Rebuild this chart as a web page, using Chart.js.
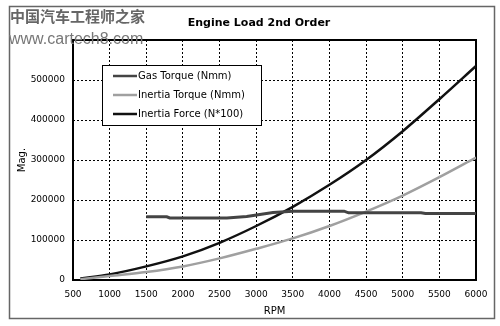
<!DOCTYPE html>
<html>
<head>
<meta charset="utf-8">
<script src="https://cdn.jsdelivr.net/npm/chart.js@4"></script>
<style>
  html, body { margin: 0; padding: 0; background: #fff; }
</style>
</head>
<body>
<canvas id="grafico" width="500" height="326"></canvas>
<script>
// Dados
const chartTitle = 'Engine Load 2nd Order';
const seriesNames = ['Gas Torque (Nmm)', 'Inertia Torque (Nmm)', 'Inertia Force (N*100)'];

const gasRpm = [1500, 1780, 1820, 2600, 2870, 3230, 3500, 4200, 4260, 5250, 5310, 6000];
const gasTorque = [158000, 158000, 155000, 155000, 159000, 169000, 172000, 172000, 168000, 168000, 166000, 166000];

const rpm = [600, 1000, 1500, 2000, 2500, 3000, 3500, 4000, 4500, 5000, 5500, 6000];
const inertiaTorque = [2000, 10000, 20000, 34000, 54000, 78000, 104000, 135000, 171000, 211000, 257000, 306000];
const inertiaForce = [4000, 14000, 34000, 59000, 93000, 135000, 183000, 238000, 300000, 372000, 452000, 535000];

const xTicks = [500, 1000, 1500, 2000, 2500, 3000, 3500, 4000, 4500, 5000, 5500, 6000];
const yTicks = [0, 100000, 200000, 300000, 400000, 500000, 600000];

const FONT = 'DejaVu Sans';

function pontos(xs, ys) {
    return xs.map((x, i) => ({ x: x, y: ys[i] }));
}

// Moldura da área do gráfico
const moldura = {
    id: 'moldura',
    beforeDatasetsDraw(chart) {
        const a = chart.chartArea;
        const ctx = chart.ctx;
        ctx.save();
        ctx.strokeStyle = '#000';
        ctx.lineWidth = 2;
        ctx.strokeRect(a.left, a.top, a.right - a.left, a.bottom - a.top);
        ctx.restore();
    }
};

// Legenda desenhada dentro da área
const legendaInterna = {
    id: 'legendaInterna',
    afterDatasetsDraw(chart) {
        const ctx = chart.ctx;
        ctx.save();
        ctx.fillStyle = '#fff';
        ctx.fillRect(102, 65, 159, 60);
        ctx.strokeStyle = '#000';
        ctx.lineWidth = 1;
        ctx.strokeRect(102.5, 65.5, 159, 60);
        ctx.font = '10px "' + FONT + '"';
        ctx.textBaseline = 'middle';
        chart.data.datasets.forEach((ds, i) => {
            const y = 76 + i * 19;
            ctx.strokeStyle = ds.borderColor;
            ctx.lineWidth = 2.5;
            ctx.beginPath();
            ctx.moveTo(113, y);
            ctx.lineTo(137, y);
            ctx.stroke();
            ctx.fillStyle = '#000';
            ctx.fillText(ds.label, 138, y);
        });
        ctx.restore();
    }
};

// Título, moldura externa e marca d'água
const extras = {
    id: 'extras',
    afterDraw(chart) {
        const ctx = chart.ctx;
        ctx.save();
        ctx.strokeStyle = '#666';
        ctx.lineWidth = 1.5;
        ctx.strokeRect(9.5, 6.5, 485, 312);
        ctx.fillStyle = '#000';
        ctx.font = 'bold 11px "' + FONT + '"';
        ctx.textAlign = 'center';
        ctx.textBaseline = 'middle';
        ctx.fillText(chartTitle, 259, 23);

        ctx.textAlign = 'left';
        ctx.fillStyle = '#666';
        ctx.font = 'bold 15px "Noto Sans CJK SC"';
        ctx.fillText('中国汽车工程师之家', 10, 16);
        ctx.fillStyle = '#777';
        ctx.font = '16px "Liberation Sans"';
        ctx.fillText('www.cartech8.com', 9, 40);
        ctx.restore();
    }
};

const ctx = document.getElementById('grafico').getContext('2d');
const grafico = new Chart(ctx, {
    type: 'line',
    data: {
        datasets: [{
            label: seriesNames[0],
            data: pontos(gasRpm, gasTorque),
            borderColor: '#444',
            borderWidth: 3,
            tension: 0,
            pointRadius: 0,
            fill: false
        }, {
            label: seriesNames[1],
            data: pontos(rpm, inertiaTorque),
            borderColor: '#a0a0a0',
            borderWidth: 2.5,
            cubicInterpolationMode: 'monotone',
            pointRadius: 0,
            fill: false
        }, {
            label: seriesNames[2],
            data: pontos(rpm, inertiaForce),
            borderColor: '#111',
            borderWidth: 2.5,
            cubicInterpolationMode: 'monotone',
            pointRadius: 0,
            fill: false
        }]
    },
    options: {
        responsive: false,
        animation: false,
        layout: { padding: { left: 10, right: 24, top: 40, bottom: 0 } },
        plugins: {
            legend: { display: false },
            title: { display: false },
            tooltip: { enabled: false }
        },
        scales: {
            x: {
                type: 'linear',
                min: xTicks[0],
                max: xTicks[xTicks.length - 1],
                afterBuildTicks: s => { s.ticks = xTicks.map(v => ({ value: v })); },
                afterFit: s => { s.height = 46; },
                ticks: {
                    color: '#000',
                    padding: 9,
                    maxRotation: 0,
                    autoSkip: false,
                    font: { family: FONT, size: 9 },
                    callback: v => String(v)
                },
                grid: { color: '#000', lineWidth: 1, drawTicks: false },
                border: { display: false, dash: [2, 2] },
                title: {
                    display: true,
                    text: 'RPM',
                    color: '#000',
                    font: { family: FONT, size: 10 },
                    padding: { top: 0, bottom: 9 }
                }
            },
            y: {
                min: yTicks[0],
                max: yTicks[yTicks.length - 1],
                afterBuildTicks: s => { s.ticks = yTicks.map(v => ({ value: v })); },
                afterFit: s => { s.width = 63; },
                ticks: {
                    color: '#000',
                    padding: 8,
                    font: { family: FONT, size: 9 },
                    callback: v => (v === 600000 ? '' : String(v))
                },
                grid: { color: '#000', lineWidth: 1, drawTicks: false },
                border: { display: false, dash: [2, 2] },
                title: {
                    display: true,
                    text: 'Mag.',
                    color: '#000',
                    font: { family: FONT, size: 10 },
                    padding: { top: 6, bottom: 0 }
                }
            }
        }
    },
    plugins: [moldura, legendaInterna, extras]
});
</script>
</body>
</html>
